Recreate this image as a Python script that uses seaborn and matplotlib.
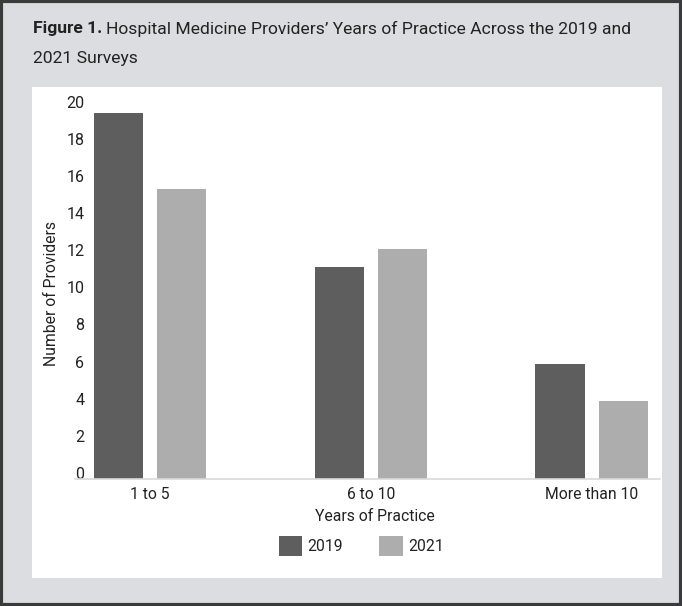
import matplotlib
matplotlib.use("Agg")
import matplotlib.pyplot as plt
import seaborn as sns
import pandas as pd
from matplotlib.patches import Rectangle
from matplotlib.transforms import ScaledTranslation

categories = ["1 to 5", "6 to 10", "More than 10"]
years = ["2019", "2021"]
values_2019 = [19.7, 11.4, 6.2]
values_2021 = [15.6, 12.4, 4.2]
yticks = [0, 2, 4, 6, 8, 10, 12, 14, 16, 18, 20]

df = pd.DataFrame({
    "Years of Practice": categories * 2,
    "Year": ["2019"] * 3 + ["2021"] * 3,
    "Number of Providers": values_2019 + values_2021,
})

sns.set_theme(style="white")
plt.rcParams["font.family"] = ["Roboto", "DejaVu Sans"]

W, H = 682, 606
fig = plt.figure(figsize=(W / 100, H / 100), dpi=100, facecolor="#dcdde0")

# white panel
fig.patches.append(Rectangle((32 / W, 1 - 578 / H), (662 - 32) / W, (578 - 87) / H,
                             transform=fig.transFigure, facecolor="white", edgecolor="none", zorder=-5))
# outer border
fig.patches.append(Rectangle((0.0015, 0.0015), 0.997, 0.997, transform=fig.transFigure,
                             facecolor="none", edgecolor="#3a3a3a", linewidth=3, zorder=5))

ax = fig.add_axes([90 / W, 1 - 479 / H, (660 - 90) / W, (479 - 107.5) / H])
ax.set_zorder(2)
ax.set_facecolor("none")

sns.barplot(data=df, x="Years of Practice", y="Number of Providers", hue="Year",
            hue_order=years, palette=["#5e5e5e", "#adadad"], width=0.572, gap=0.22,
            edgecolor="none", linewidth=0, ax=ax, errorbar=None)

ax.set_xlim(-0.273, 2.31)
ax.set_ylim(0, 20)
ax.set_yticks(yticks)
ax.set_yticklabels([str(t) for t in yticks])
for s in ["top", "right", "left", "bottom"]:
    ax.spines[s].set_visible(False)
ax.plot([-0.027, 1.0], [0, 0], transform=ax.transAxes, color="#d9d9d9", lw=1.2, clip_on=False)

ax.tick_params(axis="both", length=0, colors="#222222")
ax.tick_params(axis="y", pad=4, labelsize=11.5)
ax.tick_params(axis="x", pad=6, labelsize=11.3)
shift = ScaledTranslation(0, 6 / 100, fig.dpi_scale_trans)
for lab in ax.get_yticklabels():
    lab.set_transform(lab.get_transform() + shift)

ax.set_xlabel("Years of Practice", fontsize=11.3, color="#222222", labelpad=5)
ax.set_ylabel("Number of Providers", fontsize=11.3, color="#222222", labelpad=5)

leg = ax.legend(loc="center", bbox_to_anchor=(0.53, 1 - 546 / H), bbox_transform=fig.transFigure,
                ncol=2, frameon=False, fontsize=11.3, handlelength=1.5, handleheight=1.5,
                handletextpad=0.35, columnspacing=2.3)
for t in leg.get_texts():
    t.set_color("#222222")

t1 = fig.text(33 / W, 1 - 29 / H, "Figure 1.", fontsize=12.6, fontweight="bold",
              color="#222222", va="center", ha="left")
fig.canvas.draw()
bb = t1.get_window_extent()
fig.text((bb.x1 + 4) / W, 1 - 29 / H,
         "Hospital Medicine Providers\u2019 Years of Practice Across the 2019 and",
         fontsize=12.6, color="#222222", va="center", ha="left")
fig.text(33 / W, 1 - 59 / H, "2021 Surveys", fontsize=12.6, color="#222222", va="center", ha="left")

fig.savefig("out.png", dpi=100, facecolor=fig.get_facecolor())
